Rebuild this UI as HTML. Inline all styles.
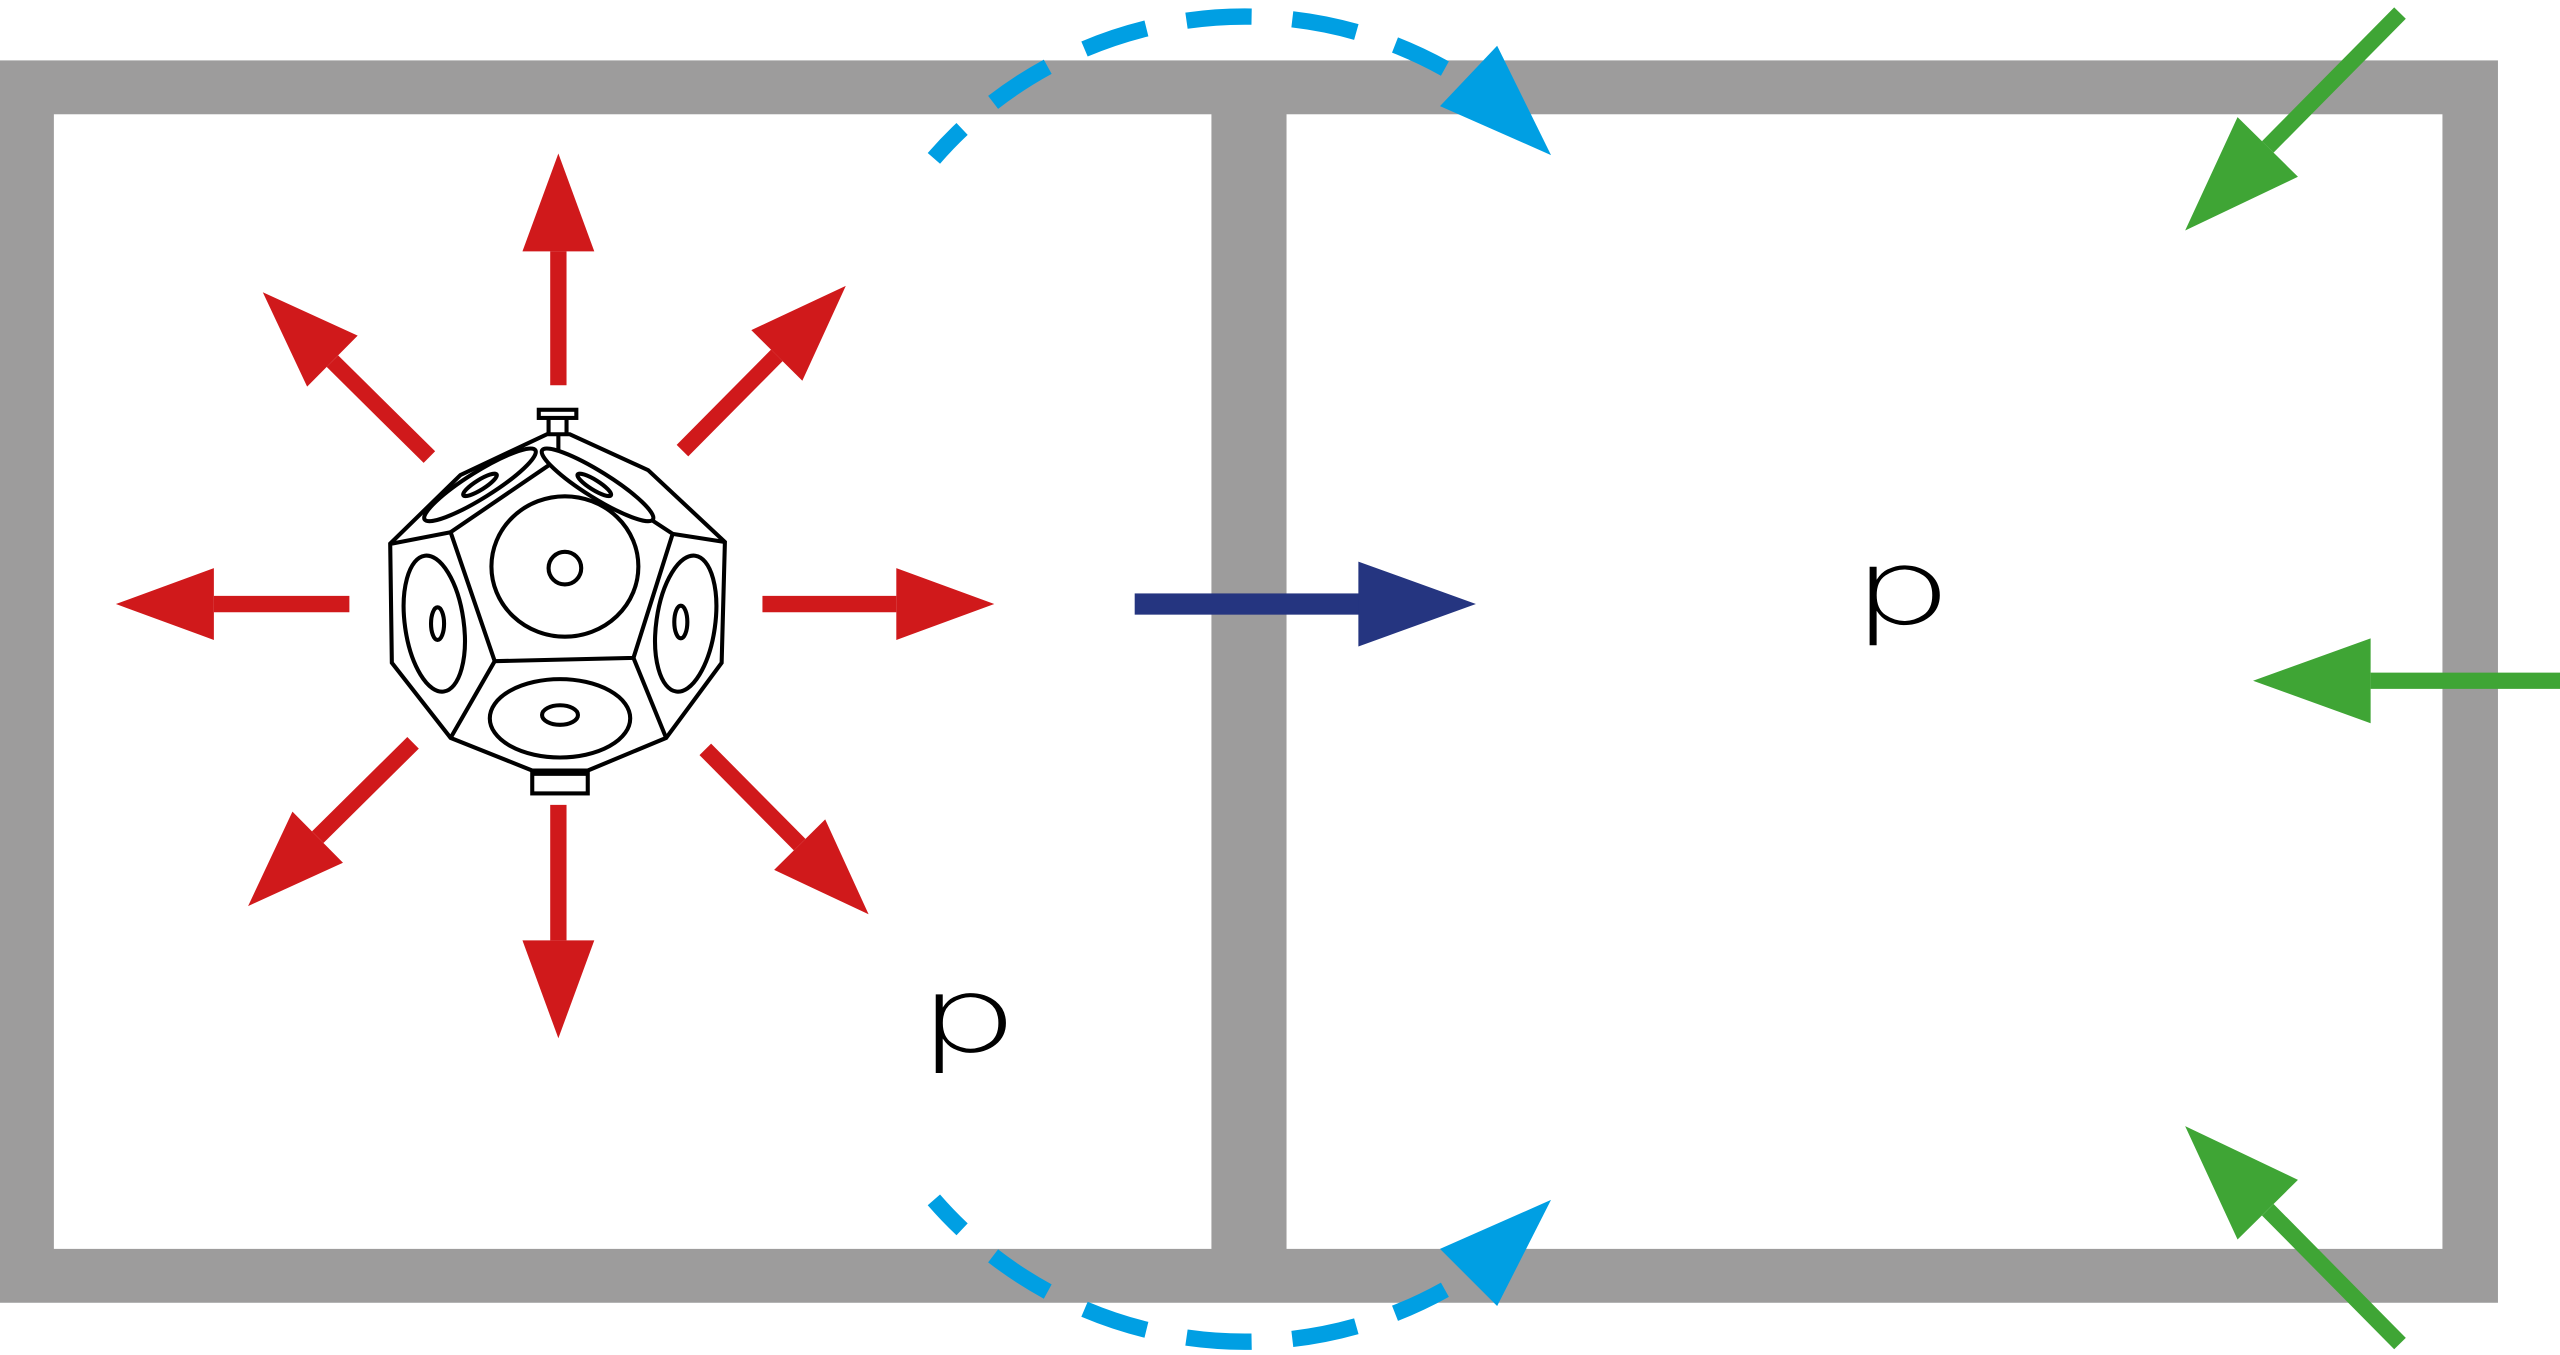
<!DOCTYPE html>
<html><head><meta charset="utf-8"><style>
html,body{margin:0;padding:0;background:#fff;width:2560px;height:1355px;overflow:hidden}
svg{display:block}
</style></head><body>
<svg width="2560" height="1355" viewBox="0 0 1568 830" preserveAspectRatio="none" xmlns="http://www.w3.org/2000/svg">
<defs>
<marker id="hr" markerUnits="userSpaceOnUse" markerWidth="80" markerHeight="60" refX="0" refY="30" orient="auto" overflow="visible"><polygon points="0,8 60,30 0,52" fill="#d0191b"/></marker>
<marker id="hg" markerUnits="userSpaceOnUse" markerWidth="80" markerHeight="60" refX="0" refY="30" orient="auto" overflow="visible"><polygon points="0,4 72,30 0,56" fill="#3fa535"/></marker>
</defs>
<rect x="0" y="37" width="1530" height="761" fill="#9d9c9c"/>
<rect x="33" y="70" width="709" height="695" fill="#fff"/>
<rect x="788" y="70" width="708" height="695" fill="#fff"/>
<g stroke="#d0191b" stroke-width="10" marker-end="url(#hr)">
<line x1="342" y1="236" x2="342" y2="154"/>
<line x1="467" y1="370" x2="549" y2="370"/>
<line x1="214" y1="370" x2="131" y2="370"/>
<line x1="342" y1="493" x2="342" y2="576"/>
<line x1="263" y1="280" x2="203.6" y2="221.2"/>
<line x1="418" y1="276" x2="475.8" y2="217.7"/>
<line x1="253" y1="455" x2="194.6" y2="512.8"/>
<line x1="432" y1="459" x2="489.8" y2="517.4"/>
</g>
<rect x="695" y="363.5" width="138" height="13" fill="#253580"/>
<polygon points="832,344 904,370 832,396" fill="#253580"/>
<g stroke="#3fa535" stroke-width="10" marker-end="url(#hg)">
<line x1="1470" y1="8" x2="1389" y2="90"/>
<line x1="1568" y1="417" x2="1452" y2="417"/>
<line x1="1470" y1="823" x2="1389" y2="741"/>
</g>
<g fill="none" stroke="#009fe3" stroke-width="10" stroke-dasharray="40,25" stroke-dashoffset="15">
<path d="M572,97 A252,252 0 0 1 885,42"/>
<path d="M572,735 A252,252 0 0 0 885,790"/>
</g>
<polygon points="882,65 917,28 950,95" fill="#009fe3"/>
<polygon points="882,765 950,735 917,800" fill="#009fe3"/>
<g fill="#fff" stroke="#000" stroke-width="2.5">
<polygon points="239,333 282,291 335,266 349,266 397,288 444,332 442,406 408,452 360,472 326,472 276,452 240,406"/>
<polyline fill="none" points="342,266 342,281 276,326 303,405 388,403 412,327 342,281"/>
<line x1="276" y1="326" x2="240" y2="333"/>
<line x1="412" y1="327" x2="444" y2="332"/>
<line x1="303" y1="405" x2="276" y2="452"/>
<line x1="388" y1="403" x2="408" y2="452"/>
<rect x="326" y="474" width="34" height="12"/>
<rect x="330" y="251" width="23" height="5"/>
<line x1="336" y1="256" x2="336" y2="265"/><line x1="347" y1="256" x2="347" y2="265"/>
<ellipse cx="346" cy="347" rx="45" ry="43"/>
<circle cx="346" cy="348" r="10"/>
<ellipse cx="343" cy="440" rx="43" ry="24"/>
<ellipse cx="343" cy="438" rx="11" ry="6"/>
<ellipse cx="266" cy="382" rx="18" ry="42" transform="rotate(-8 266 382)"/>
<ellipse cx="268" cy="382" rx="4" ry="10"/>
<ellipse cx="420" cy="382" rx="18" ry="42" transform="rotate(8 420 382)"/>
<ellipse cx="417" cy="381" rx="4" ry="10"/>
<ellipse cx="294" cy="297" rx="40" ry="8" transform="rotate(-32 294 297)"/>
<ellipse cx="294" cy="297" rx="12" ry="3" transform="rotate(-32 294 297)"/>
<ellipse cx="366" cy="297" rx="40" ry="8" transform="rotate(32 366 297)"/>
<ellipse cx="364" cy="297" rx="12" ry="3" transform="rotate(32 364 297)"/>
</g>
<text transform="translate(1134,382) scale(1.3,0.85)" font-family="DejaVu Sans, Liberation Sans, sans-serif" font-weight="200" font-size="75" fill="#000">p</text>
<text transform="translate(562,644) scale(1.3,0.85)" font-family="DejaVu Sans, Liberation Sans, sans-serif" font-weight="200" font-size="75" fill="#000">p</text>
</svg>
</body></html>
